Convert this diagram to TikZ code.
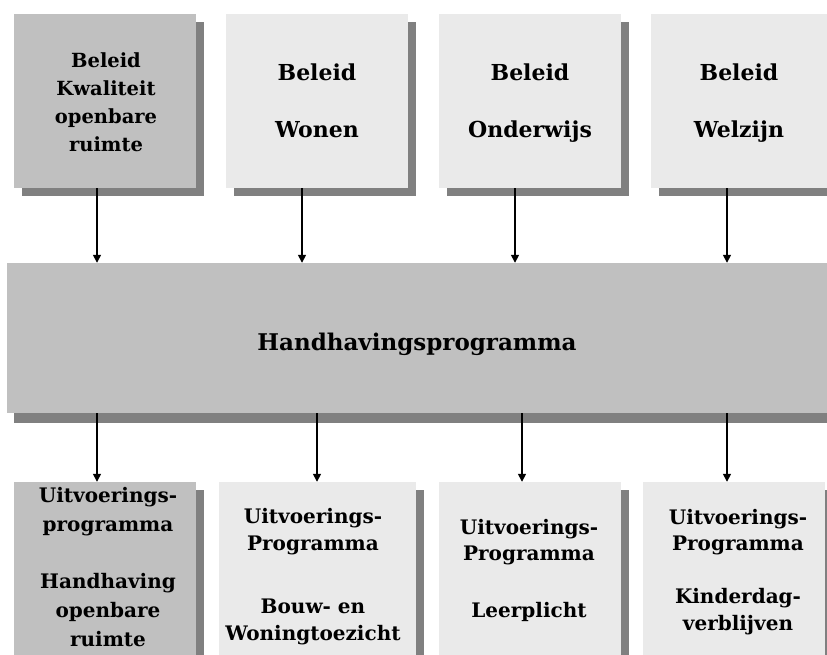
\documentclass[tikz,border=0pt]{standalone}
\usepackage{fontspec}
\setmainfont{DejaVu Serif}
\usetikzlibrary{arrows.meta,shadows}

\definecolor{boxdark}{RGB}{192,192,192}
\definecolor{boxlight}{RGB}{234,234,234}
\definecolor{shadowgray}{RGB}{128,128,128}

\tikzset{
  panel/.style={rectangle, draw=none, inner sep=0pt,
    drop shadow={shadow xshift=8pt, shadow yshift=-8pt, fill=shadowgray, opacity=1}},
  topbox/.style={panel, minimum width=182pt, minimum height=174pt},
  lowbox/.style={panel, minimum height=188pt},
  % multi-line labels are placed by the baseline of their last line
  txt/.style={align=center, inner sep=0pt, anchor=base, text=black, font=\bfseries},
  flow/.style={line width=1.5pt, -{Triangle[width=8pt,length=8pt]}},
}

\begin{document}
\begin{tikzpicture}[x=1pt,y=-1pt]
  \clip (0,0) rectangle (827,655);
  \useasboundingbox (0,0) rectangle (827,655);

  % policy boxes
  \node[topbox, fill=boxdark]  (t1) at (105,101) {};
  \node[topbox, fill=boxlight] (t2) at (317,101) {};
  \node[topbox, fill=boxlight] (t3) at (530,101) {};
  \node[topbox, fill=boxlight] (t4) at (742,101) {};

  % enforcement programme band
  \node[rectangle, draw=none, inner sep=0pt, fill=boxdark,
        minimum width=820pt, minimum height=150pt,
        drop shadow={shadow xshift=7pt, shadow yshift=-10pt, fill=shadowgray, opacity=1}]
        (band) at (417,338) {};

  % execution programme boxes
  \node[lowbox, fill=boxdark,  minimum width=182pt] (b1) at (105,576)   {};
  \node[lowbox, fill=boxlight, minimum width=197pt] (b2) at (317.5,576) {};
  \node[lowbox, fill=boxlight, minimum width=182pt] (b3) at (530,576)   {};
  \node[lowbox, fill=boxlight, minimum width=182pt] (b4) at (734,576)   {};

  % labels
  \node[txt, font=\bfseries\fontsize{19.5}{28.3}\selectfont] (l1) at (106,152)
    {Beleid\\Kwaliteit\\openbare\\ruimte};
  \node[txt, font=\bfseries\fontsize{22}{28.5}\selectfont] (l2) at (317,138)
    {Beleid\\[28.5pt]Wonen};
  \node[txt, font=\bfseries\fontsize{22}{28.5}\selectfont] (l3) at (530,138)
    {Beleid\\[28.5pt]Onderwijs};
  \node[txt, font=\bfseries\fontsize{22}{28.5}\selectfont] (l4) at (739,138)
    {Beleid\\[28.5pt]Welzijn};

  \node[txt, font=\bfseries\fontsize{23}{28}\selectfont] (lm) at (417,350)
    {Handhavingsprogramma};

  \node[txt, font=\bfseries\fontsize{20}{29}\selectfont] (m1) at (108,646)
    {Uitvoerings-\\programma\\[28pt]Handhaving\\openbare\\ruimte};
  \node[txt, font=\bfseries\fontsize{20}{27}\selectfont] (m2) at (313,640)
    {Uitvoerings-\\Programma\\[36pt]Bouw- en\\Woningtoezicht};
  \node[txt, font=\bfseries\fontsize{20}{26}\selectfont] (m3) at (529,617)
    {Uitvoerings-\\Programma\\[31pt]Leerplicht};
  \node[txt, font=\bfseries\fontsize{20}{26.5}\selectfont] (m4) at (738,630)
    {Uitvoerings-\\Programma\\[26.5pt]Kinderdag-\\verblijven};

  % connector columns
  \coordinate (c1) at (97,0);
  \coordinate (c2) at (302,0);
  \coordinate (c3) at (515,0);
  \coordinate (c4) at (727,0);
  \coordinate (d1) at (97,0);
  \coordinate (d2) at (317,0);
  \coordinate (d3) at (522,0);
  \coordinate (d4) at (727,0);

  \draw[flow] (t1.south -| c1) -- (band.north -| c1);
  \draw[flow] (t2.south -| c2) -- (band.north -| c2);
  \draw[flow] (t3.south -| c3) -- (band.north -| c3);
  \draw[flow] (t4.south -| c4) -- (band.north -| c4);

  \draw[flow] (band.south -| d1) -- (b1.north -| d1);
  \draw[flow] (band.south -| d2) -- (b2.north -| d2);
  \draw[flow] (band.south -| d3) -- (b3.north -| d3);
  \draw[flow] (band.south -| d4) -- (b4.north -| d4);
\end{tikzpicture}
\end{document}
